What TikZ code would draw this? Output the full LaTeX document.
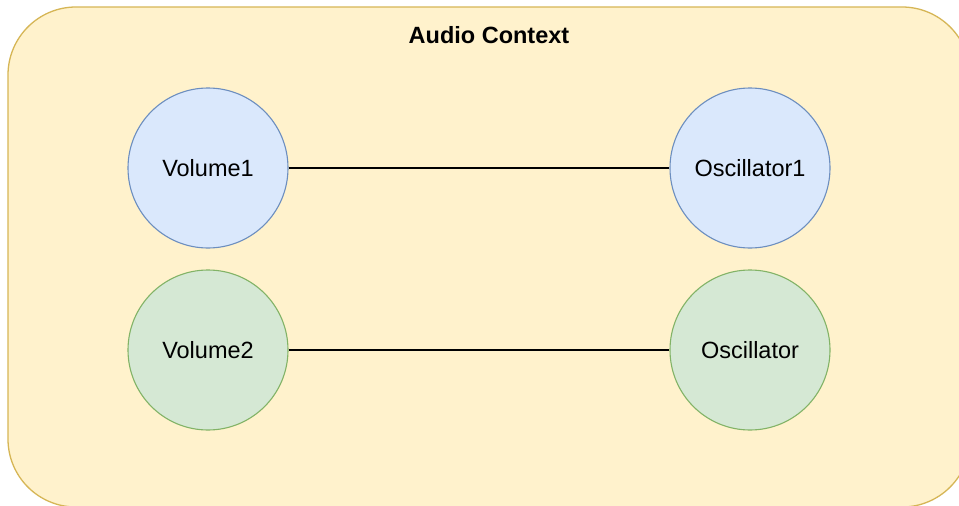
\documentclass[tikz,border=0pt]{standalone}
\usepackage{fontspec}
\setmainfont{Liberation Sans}
\definecolor{ctxfill}{HTML}{FFF2CC}
\definecolor{ctxline}{HTML}{D6B656}
\definecolor{bluefill}{HTML}{DAE8FC}
\definecolor{blueline}{HTML}{6C8EBF}
\definecolor{greenfill}{HTML}{D5E8D4}
\definecolor{greenline}{HTML}{82B366}
\tikzset{
  audionode/.style={circle, minimum size=160pt, inner sep=0pt, line width=1.1pt,
    font=\fontsize{23.5}{28}\selectfont},
  bluenode/.style={audionode, draw=blueline, fill=bluefill},
  greennode/.style={audionode, draw=greenline, fill=greenfill},
  link/.style={draw=black, line width=1.3pt},
}
\begin{document}
\begin{tikzpicture}[x=1pt, y=-1pt]
  \useasboundingbox (0,0) rectangle (959,506);
  \clip (0,0) rectangle (959,506);
  \fill[white] (0,0) rectangle (959,506);
  % audio context container
  \draw[fill=ctxfill, draw=ctxline, line width=1.3pt, rounded corners=68pt]
    (8,7) rectangle (970,507);
  \node[font=\bfseries\fontsize{23.5}{28}\selectfont] (title) at (489,35) {Audio Context};
  % audio nodes
  \node[bluenode]  (vol1) at (208,168) {Volume1};
  \node[bluenode]  (osc1) at (750,168) {Oscillator1};
  \node[greennode] (vol2) at (208,350) {Volume2};
  \node[greennode] (osc2) at (750,350) {Oscillator};
  % connections
  \draw[link] (vol1) -- (osc1);
  \draw[link] (vol2) -- (osc2);
\end{tikzpicture}
\end{document}
